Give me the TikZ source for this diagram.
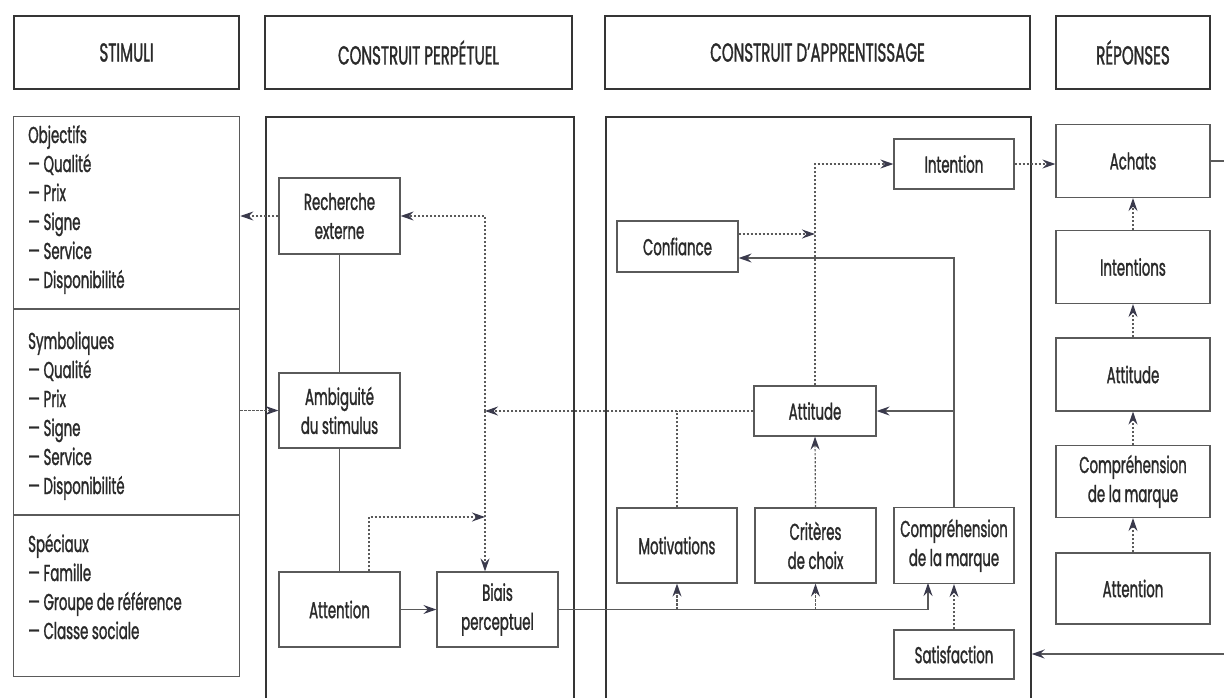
\documentclass[tikz,border=0pt]{standalone}
\usepackage{fontspec}
\setmainfont{Poppins}[FakeStretch=0.58,FakeBold=1.2]
\usetikzlibrary{arrows.meta}
\definecolor{ln}{HTML}{5A5A5A}
\definecolor{fr}{HTML}{353535}
\definecolor{ar}{HTML}{3A3A4C}
\definecolor{tx}{HTML}{2A2A2A}
\newcommand\myfont{\fontsize{23}{29}\selectfont}
\newcommand\myhfont{\fontsize{26}{29}\selectfont}
\begin{document}
\begin{tikzpicture}[x=1pt,y=-1pt,
  every node/.style={text=tx},
  box/.style={draw=ln,line width=1.2pt,fill=white,align=center,inner sep=0pt,
              minimum width=121pt,minimum height=75pt,font=\myfont},
  hdr/.style={draw=fr,line width=1.4pt,fill=white,inner sep=0pt,minimum height=73pt,font=\myhfont},
  frame/.style={draw=fr,line width=1.7pt,inner sep=0pt},
  sbox/.style={draw=ln,line width=1.3pt,inner sep=0pt},
  stxt/.style={anchor=base west,align=left,inner sep=0pt,font=\myfont},
  con/.style={draw=ln,line width=1.2pt},
  dot/.style={con,dash pattern=on 2.4pt off 1.6pt},
  arr/.style={-{Stealth[length=13pt,width=9pt,inset=4.5pt,color=ar]}}]
\fill[white] (0,0) rectangle (1224,697);
\useasboundingbox (0,0) rectangle (1224,697);

% headers
\node[hdr,minimum width=225pt] (hstim) at (126.5,52.5) {STIMULI};
\node[hdr,minimum width=307pt] (hperc) at (418.5,52.5) {CONSTRUIT PERPÉTUEL};
\node[hdr,minimum width=425pt] (happ) at (817.5,52.5) {CONSTRUIT D’APPRENTISSAGE};
\node[hdr,minimum width=154pt] (hrep) at (1133,52.5) {RÉPONSES};

% column frames
\node[frame,minimum width=308pt,minimum height=620pt,anchor=north west] (pbox) at (265,116) {};
\node[frame,minimum width=425pt,minimum height=620pt,anchor=north west] (lbox) at (605,116) {};
\node[sbox,minimum width=226pt,minimum height=560pt,anchor=north west] (stim) at (13,116) {};

% stimuli (anchor = baseline of the last line)
\coordinate (d1) at (0,309);
\coordinate (d2) at (0,515);
\draw[con,line width=1.3pt] (stim.west |- d1) -- (stim.east |- d1);
\draw[con,line width=1.3pt] (stim.west |- d2) -- (stim.east |- d2);
\node[stxt] (sobj) at (28,288) {Objectifs\\— Qualité\\— Prix\\— Signe\\— Service\\— Disponibilité};
\node[stxt] (ssym) at (28,494) {Symboliques\\— Qualité\\— Prix\\— Signe\\— Service\\— Disponibilité};
\node[stxt] (sspe) at (28,639) {Spéciaux\\— Famille\\— Groupe de référence\\— Classe sociale};

% perceptual construct
\node[box,minimum height=76pt] (rech) at (339.5,216) {Recherche\\externe};
\node[box] (ambi) at (339.5,410.5) {Ambiguité\\du stimulus};
\node[box] (attn) at (339.5,609.5) {Attention};
\node[box] (biais) at (497.5,609.5) {Biais\\perceptuel};

% learning construct
\node[box,minimum height=51pt] (conf) at (677.5,246.5) {Confiance};
\node[box,minimum width=120pt,minimum height=50pt] (intn) at (954,164) {Intention};
\node[box,minimum width=122pt,minimum height=50pt] (attd) at (815,411) {Attitude};
\node[box,minimum width=120pt] (motiv) at (677,545.5) {Motivations};
\node[box] (crit) at (815.5,545.5) {Critères\\de choix};
\node[box,minimum width=120pt,minimum height=76pt] (comp) at (954,545.5) {Compréhension\\de la marque};
\node[box,minimum width=120pt,minimum height=49pt] (satis) at (954,654.5) {Satisfaction};

% responses
\node[box,minimum width=154pt,minimum height=73pt] (achats) at (1133,161) {Achats};
\node[box,minimum width=154pt,minimum height=73pt] (intns) at (1133,267) {Intentions};
\node[box,minimum width=154pt,minimum height=73pt] (ratt) at (1133,374.5) {Attitude};
\node[box,minimum width=154pt,minimum height=72pt] (rcomp) at (1133,481.5) {Compréhension\\de la marque};
\node[box,minimum width=154pt,minimum height=71pt] (ratn) at (1133,588.5) {Attention};

% connectors: stimuli <-> perceptual
\draw[dot,arr] (rech.west) -- (rech.west -| stim.east);
\draw[dot,arr] (ambi.west -| stim.east) -- (ambi.west);
\draw[con] (rech.south) -- (ambi.north);
\draw[con] (ambi.south) -- (attn.north);
\coordinate (j) at (485,411);
\coordinate (j2) at (485,517);
\draw[dot,arr] (attd.west) -- (j);
\draw[dot,arr] (j) |- (rech.east);
\draw[dot,arr] (j) -- (j |- biais.north);
\draw[dot,arr] ([xshift=29.5pt]attn.north) |- (j2);
\draw[con,arr] (attn.east) -- (biais.west);

% perceptual -> learning
\coordinate (bk) at (928,583);
\draw[con,arr] (biais.east) -| (bk);
\draw[dot,arr] (motiv.south |- biais.east) -- (motiv.south);
\draw[dot,arr] (crit.south |- biais.east) -- (crit.south);
\draw[dot,arr] (satis.north) -- (comp.south);
\draw[dot,arr] (crit.north) -- (attd.south);
\draw[dot] (motiv.north) -- (motiv.north |- attd.west);
\coordinate (k) at (954,258);
\draw[con,arr] (comp.north) -- (k) -- (conf.east |- k);
\draw[con,arr] (comp.north |- attd.east) -- (attd.east);
\coordinate (m) at (815,234);
\draw[dot,arr] (conf.east |- m) -- (m);
\draw[dot,arr] (attd.north) |- (intn.west);

% learning -> responses
\draw[dot,arr] (intn.east) -- (intn.east -| achats.west);
\coordinate (re) at (1224,161);
\draw[con] (achats.east) -- (re);
\coordinate (rb) at (1224,654);
\draw[con,arr] (rb) -- (rb -| lbox.east);
\draw[dot,arr] (ratn.north) -- (rcomp.south);
\draw[dot,arr] (rcomp.north) -- (ratt.south);
\draw[dot,arr] (ratt.north) -- (intns.south);
\draw[dot,arr] (intns.north) -- (achats.south);
\end{tikzpicture}
\end{document}
